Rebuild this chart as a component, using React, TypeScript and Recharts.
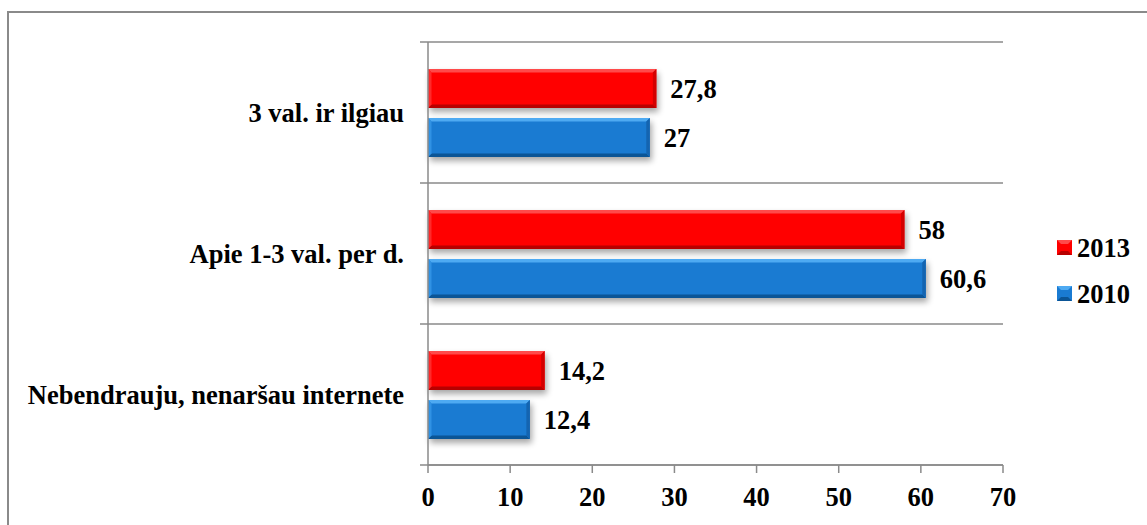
import React from 'react';
import { BarChart, Bar, XAxis, YAxis, CartesianGrid, LabelList, Legend } from 'recharts';

const categories = ['3 val. ir ilgiau', 'Apie 1-3 val. per d.', 'Nebendrauju, nenaršau internete'];
const values2013 = [27.8, 58, 14.2];
const values2010 = [27, 60.6, 12.4];
const xTicks = [0, 10, 20, 30, 40, 50, 60, 70];
const seriesNames = ['2013', '2010'];

const data = categories.map((c, i) => ({ category: c, s2013: values2013[i], s2010: values2010[i] }));

const FONT = "'Liberation Serif', 'Times New Roman', serif";
const FS = 26.5;
const GRAY = '#8a8a8a';

type Palette = { key: string; main: string; top: string; bottom: string; right: string; left: string };
const RED: Palette = { key: 'r', main: '#ff0000', top: '#ff4a4a', bottom: '#b80000', right: '#d40000', left: '#ff2a2a' };
const BLUE: Palette = { key: 'b', main: '#1a7bd2', top: '#4eaaf2', bottom: '#0b5596', right: '#1464b0', left: '#3092e4' };

const makeShape = (p: Palette) => (props: any) => {
  const { x, y, width: w, height: h, index } = props;
  if (!w || w <= 0) return <g />;
  const b = 3.5;
  const id = `shadow-${p.key}-${index}`;
  return (
    <g>
      <defs>
        <filter id={id} x="-10%" y="-60%" width="130%" height="260%">
          <feGaussianBlur stdDeviation="3" />
        </filter>
      </defs>
      <rect x={x + 2} y={y + 4} width={w} height={h} fill="#000" opacity={0.35} filter={`url(#${id})`} />
      <rect x={x} y={y} width={w} height={h} fill={p.main} />
      <polygon points={`${x},${y} ${x + w},${y} ${x + w - b},${y + b} ${x + b},${y + b}`} fill={p.top} />
      <polygon points={`${x},${y + h} ${x + w},${y + h} ${x + w - b},${y + h - b} ${x + b},${y + h - b}`} fill={p.bottom} />
      <polygon points={`${x + w},${y} ${x + w},${y + h} ${x + w - b},${y + h - b} ${x + w - b},${y + b}`} fill={p.right} />
      <polygon points={`${x},${y} ${x},${y + h} ${x + b},${y + h - b} ${x + b},${y + b}`} fill={p.left} />
    </g>
  );
};

const CatTick = (props: any) => {
  const { x, y, payload } = props;
  return (
    <text x={x} y={y} dy="0.35em" textAnchor="end" fontFamily={FONT} fontWeight="bold" fontSize={FS} fill="#000">
      {payload.value}
    </text>
  );
};

const XTick = (props: any) => {
  const { x, y, payload } = props;
  return (
    <text x={x} y={y} dy="0.71em" textAnchor="middle" fontFamily={FONT} fontWeight="bold" fontSize={FS} fill="#000">
      {payload.value}
    </text>
  );
};

const GridLine = (props: any) => {
  const { x1, x2, y1, y2 } = props;
  return <line x1={x1 - 8} x2={x2} y1={y1} y2={y2} stroke={GRAY} strokeWidth={1.5} />;
};

const boundaryCoords = ({ offset }: any) =>
  Array.from({ length: categories.length + 1 }, (_, i) => offset.top + (offset.height * i) / categories.length);

const LegendContent = () => {
  const pals = [RED, BLUE];
  return (
    <div style={{ fontFamily: FONT, fontWeight: 'bold', fontSize: FS, color: '#000' }}>
      {seriesNames.map((n, i) => (
        <div key={n} style={{ display: 'flex', alignItems: 'center', height: 46 }}>
          <svg width={16} height={16} style={{ marginRight: 4 }}>
            <rect x={0} y={0} width={15} height={15} fill={pals[i].main} />
            <polygon points="0,0 15,0 11,4 4,4" fill={pals[i].top} />
            <polygon points="0,15 15,15 11,11 4,11" fill={pals[i].bottom} />
          </svg>
          <span>{n}</span>
        </div>
      ))}
    </div>
  );
};

const fmt = (v: any) => String(v).replace('.', ',');

export default function App() {
  return (
    <div style={{ position: 'absolute', left: 0, top: 0, width: 1147, height: 525, overflow: 'hidden', background: '#fff' }}>
      <style>{`body{margin:0;overflow:hidden}`}</style>
      <div style={{ position: 'absolute', left: 0, top: 0 }}>
        <BarChart
          width={1147}
          height={525}
          data={data}
          layout="vertical"
          margin={{ top: 42, right: 54, bottom: 20, left: 8 }}
          barCategoryGap={27}
          barGap={10}
        >
          <YAxis
            type="category"
            dataKey="category"
            width={420}
            axisLine={{ stroke: GRAY, strokeWidth: 1.5 }}
            tickLine={false}
            tickSize={0}
            tickMargin={24}
            tick={<CatTick />}
          />
          <XAxis
            type="number"
            domain={[0, 70]}
            ticks={xTicks}
            height={40}
            tickSize={8}
            tickMargin={14}
            axisLine={{ stroke: GRAY, strokeWidth: 1.5 }}
            tickLine={{ stroke: GRAY, strokeWidth: 1.5 }}
            tick={<XTick />}
          />
          <CartesianGrid
            vertical={false}
            horizontal={<GridLine />}
            horizontalCoordinatesGenerator={boundaryCoords}
            stroke={GRAY}
            strokeWidth={1.5}
          />
          <Legend
            layout="horizontal"
            verticalAlign="middle"
            align="right"
            content={<LegendContent />}
            wrapperStyle={{ position: 'absolute', left: 1057, top: 225, width: 90, right: 'auto', bottom: 'auto' }}
          />
          <Bar dataKey="s2013" name="2013" shape={makeShape(RED)} isAnimationActive={false}>
            <LabelList
              dataKey="s2013"
              position="right"
              offset={14}
              formatter={fmt}
              style={{ fontFamily: FONT, fontWeight: 'bold', fontSize: FS, fill: '#000' }}
            />
          </Bar>
          <Bar dataKey="s2010" name="2010" shape={makeShape(BLUE)} isAnimationActive={false}>
            <LabelList
              dataKey="s2010"
              position="right"
              offset={14}
              formatter={fmt}
              style={{ fontFamily: FONT, fontWeight: 'bold', fontSize: FS, fill: '#000' }}
            />
          </Bar>
        </BarChart>
      </div>
      <div
        style={{
          position: 'absolute',
          left: 7,
          top: 11,
          width: 1140,
          height: 514,
          boxSizing: 'border-box',
          borderTop: `2px solid ${GRAY}`,
          borderLeft: `2px solid ${GRAY}`,
          pointerEvents: 'none',
        }}
      />
    </div>
  );
}
